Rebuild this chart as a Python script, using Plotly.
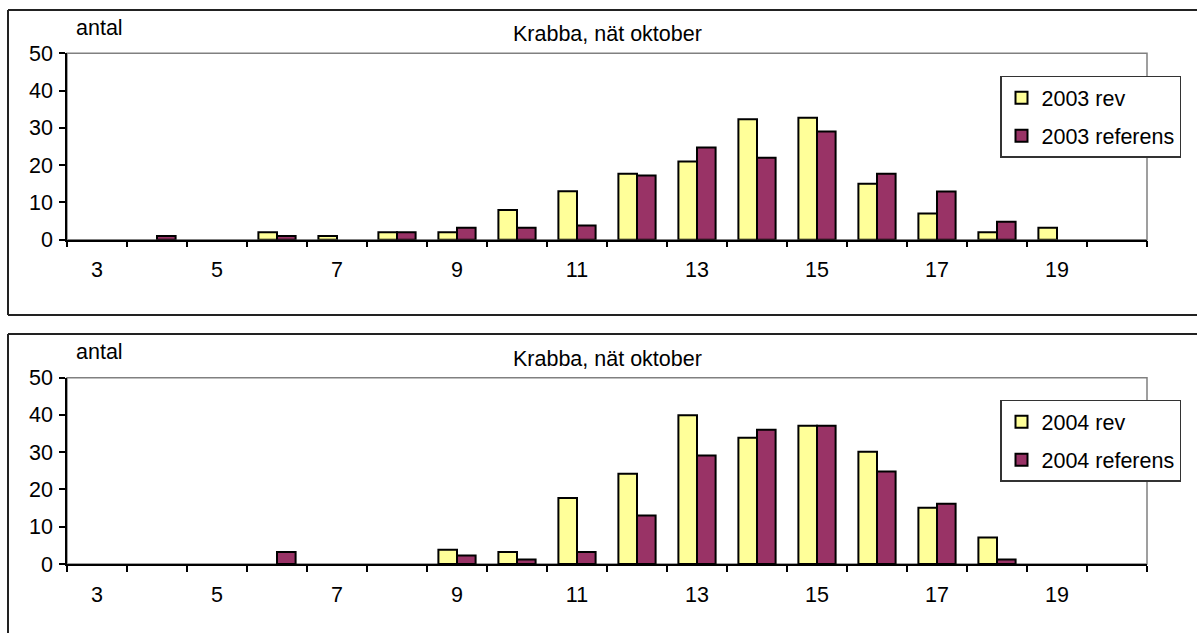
import plotly.graph_objects as go
from plotly.subplots import make_subplots

# Carapace size classes (x axis) and counts per class
langd = list(range(3, 21))

rev_2003 = [0, 0, 0, 2, 1, 2, 2, 8, 13, 17.7, 21, 32.3, 32.7, 15, 7, 2, 3.2, 0]
ref_2003 = [0, 1, 0, 1, 0, 2, 3.2, 3.2, 3.8, 17.2, 24.7, 22, 29, 17.7, 12.9, 4.8, 0, 0]

rev_2004 = [0, 0, 0, 0, 0, 0, 3.8, 3.2, 17.7, 24.2, 39.9, 33.9, 37.1, 30.1, 15.1, 7.1, 0, 0]
ref_2004 = [0, 0, 0, 3.2, 0, 0, 2.3, 1.2, 3.2, 13, 29.1, 36, 37.1, 24.8, 16.2, 1.2, 0, 0]

x_ticks = [3, 5, 7, 9, 11, 13, 15, 17, 19]
y_ticks = [0, 10, 20, 30, 40, 50]

title = "Krabba, nät oktober"
y_label = "antal"

W, H = 1197, 633
FONT = "Liberation Sans, Arial, sans-serif"
FS = 21.5
YELLOW = "#FFFF99"
MAROON = "#993366"


def px(v):
    return v / W


def py(v):
    return 1 - v / H


def hide_zero(vals):
    # empty classes get no bar at all
    return [v if v else None for v in vals]


plot_left, plot_right = 67, 1147
panels = [
    dict(top=53.3, bottom=239.7, rev=rev_2003, ref=ref_2003, year="2003",
         box_top=10, box_bottom=315, title_y=34.5, label_y=28, legend_top=75.7),
    dict(top=377.7, bottom=564, rev=rev_2004, ref=ref_2004, year="2004",
         box_top=334, box_bottom=None, title_y=359, label_y=352, legend_top=399.7),
]

fig = make_subplots(rows=2, cols=1)

shapes = []
annotations = []
for i, p in enumerate(panels, start=1):
    leg = "legend" if i == 1 else "legend2"
    fig.add_trace(go.Bar(x=langd, y=hide_zero(p["rev"]), name=f"{p['year']} rev",
                         marker=dict(color=YELLOW, line=dict(color="black", width=2)),
                         legend=leg, legendgroup=f"a{i}"), row=i, col=1)
    fig.add_trace(go.Bar(x=langd, y=hide_zero(p["ref"]), name=f"{p['year']} referens",
                         marker=dict(color=MAROON, line=dict(color="black", width=2)),
                         legend=leg, legendgroup=f"b{i}"), row=i, col=1)

    xa = "xaxis" if i == 1 else f"xaxis{i}"
    ya = "yaxis" if i == 1 else f"yaxis{i}"
    fig.layout[xa].update(
        domain=[px(plot_left), px(plot_right)], automargin=False,
        range=[2.5, 20.5], tickmode="array", tickvals=x_ticks,
        ticks="", ticklen=0, showgrid=False, zeroline=False,
        showline=True, linecolor="black", linewidth=1.5,
        tickfont=dict(family=FONT, size=FS, color="black"),
        ticklabelstandoff=10,
        minor=dict(tickmode="array", tickvals=[v + 0.5 for v in [2] + langd],
                   ticks="outside", ticklen=6, tickwidth=1.5, tickcolor="black",
                   showgrid=False),
    )
    fig.layout[ya].update(
        domain=[py(p["bottom"]), py(p["top"])], automargin=False,
        range=[0, 50], tickmode="array", tickvals=y_ticks,
        ticks="outside", ticklen=6, tickwidth=1.5, tickcolor="black",
        showgrid=False, zeroline=False,
        showline=True, linecolor="black", linewidth=1.5,
        tickfont=dict(family=FONT, size=FS, color="black"),
        ticklabelstandoff=2,
    )

    xref = "x" if i == 1 else f"x{i}"
    yref = "y" if i == 1 else f"y{i}"
    # grey plot-area frame (top and right edges)
    shapes.append(dict(type="rect", xref=f"{xref} domain", yref=f"{yref} domain",
                       x0=0, x1=1, y0=0, y1=1, line=dict(color="#808080", width=1.5),
                       layer="below"))
    # chart-area border
    shapes.append(dict(type="line", xref="paper", yref="paper",
                       x0=px(8), x1=1, y0=py(p["box_top"]), y1=py(p["box_top"]),
                       line=dict(color="#222222", width=2)))
    bottom = p["box_bottom"] if p["box_bottom"] is not None else H + 5
    shapes.append(dict(type="line", xref="paper", yref="paper",
                       x0=px(8), x1=px(8), y0=py(p["box_top"]), y1=py(bottom),
                       line=dict(color="#222222", width=2)))
    if p["box_bottom"] is not None:
        shapes.append(dict(type="line", xref="paper", yref="paper",
                           x0=px(8), x1=1, y0=py(bottom), y1=py(bottom),
                           line=dict(color="#222222", width=2)))

    annotations.append(dict(text=title, xref="paper", yref="paper",
                            x=px((plot_left + plot_right) / 2), y=py(p["title_y"]),
                            xanchor="center", yanchor="middle", showarrow=False,
                            font=dict(family=FONT, size=FS, color="black")))
    annotations.append(dict(text=y_label, xref="paper", yref="paper",
                            x=px(74), y=py(p["label_y"]),
                            xanchor="left", yanchor="middle", showarrow=False,
                            font=dict(family=FONT, size=FS, color="black")))

    legend_cfg = dict(x=px(1000), y=py(p["legend_top"]), xanchor="left", yanchor="top",
                      bgcolor="white", bordercolor="#333333", borderwidth=1.5,
                      font=dict(family=FONT, size=FS, color="black"),
                      traceorder="grouped", tracegroupgap=7, itemwidth=30)
    fig.layout["legend" if i == 1 else "legend2"] = legend_cfg

fig.update_layout(
    width=W, height=H,
    margin=dict(l=0, r=0, t=0, b=0, autoexpand=False),
    paper_bgcolor="white", plot_bgcolor="white",
    barmode="group", bargap=0.38, bargroupgap=0,
    showlegend=True,
    shapes=shapes, annotations=annotations,
    font=dict(family=FONT, size=FS, color="black"),
)

fig.write_html("out.html")
